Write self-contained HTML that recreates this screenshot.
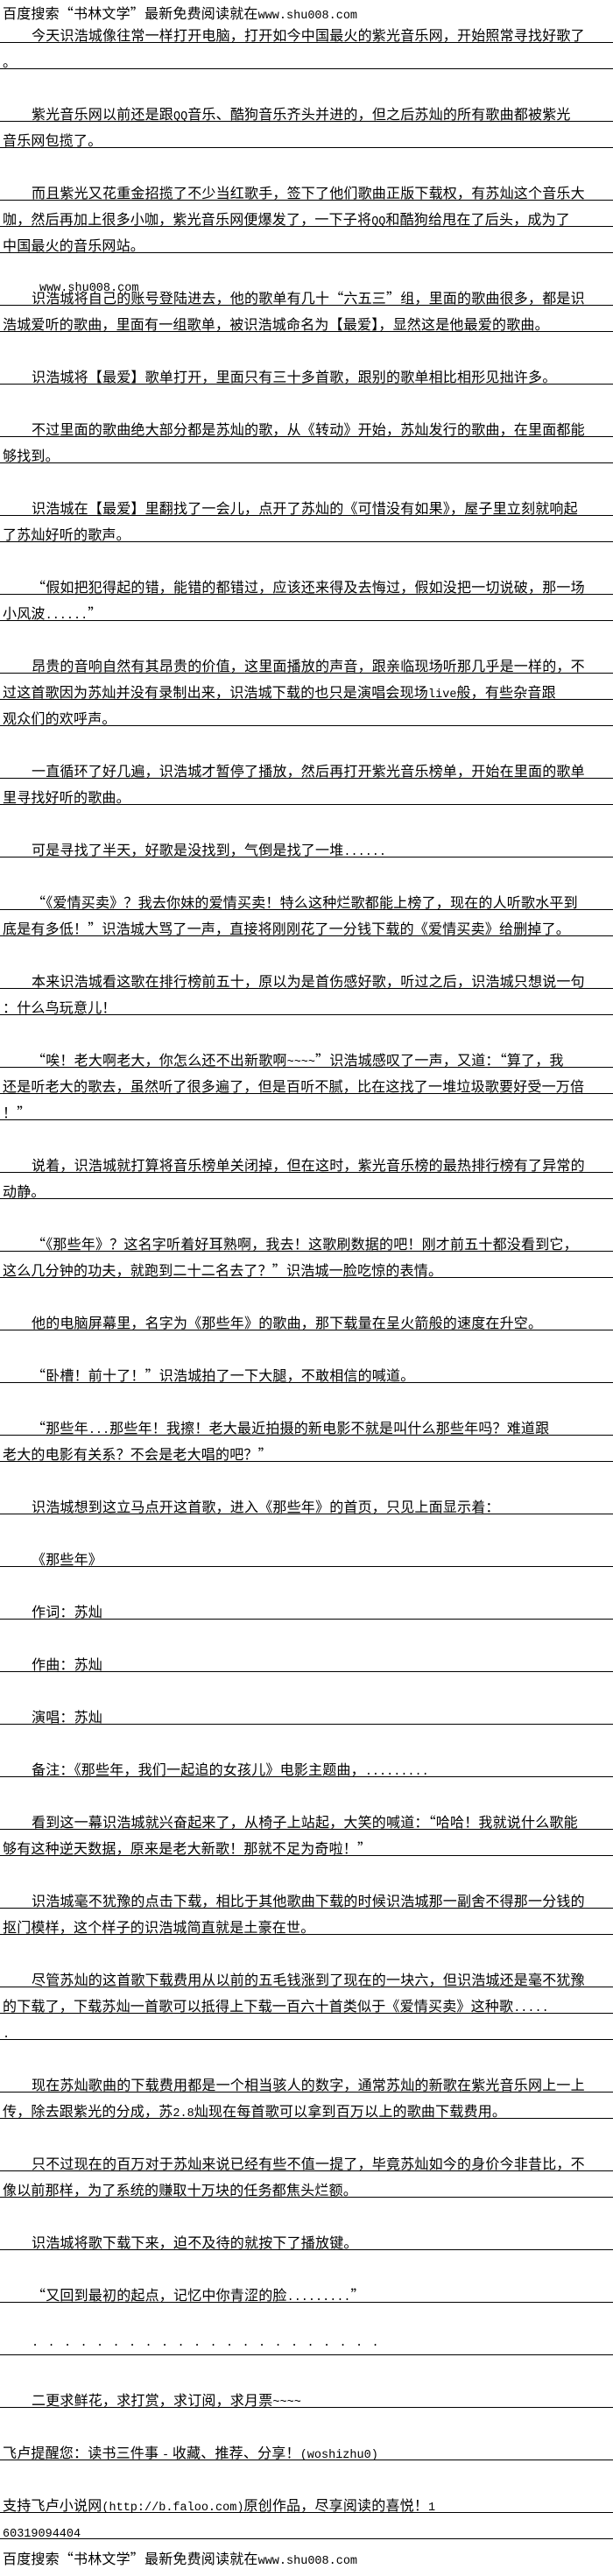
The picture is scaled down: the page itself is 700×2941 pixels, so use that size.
<!DOCTYPE html>
<html><head><meta charset="utf-8">
<style>
html,body{margin:0;padding:0;background:#fff;}
body{width:700px;height:2941px;position:relative;overflow:hidden;font-family:"Noto Sans CJK SC","WenQuanYi Zen Hei",sans-serif;color:#000;}
.r{position:absolute;left:0;width:697px;padding-left:3px;height:17px;padding-top:12px;line-height:16px;font-size:16px;letter-spacing:0.2px;border-bottom:1px solid #000;white-space:nowrap;overflow:hidden;}
.i{text-indent:33px;}
.t{position:absolute;left:3px;font-size:16px;line-height:16px;letter-spacing:0.2px;white-space:nowrap;}
.m{font-family:"Liberation Mono",monospace;font-size:13.5px;letter-spacing:0;}
</style></head><body>
<div class="t" style="top:6px">百度搜索“书林文学”最新免费阅读就在<span class="m">www.shu008.com</span></div>

<div class="r i" style="top:19px">今天识浩城像往常一样打开电脑，打开如今中国最火的紫光音乐网，开始照常寻找好歌了</div>
<div class="r" style="top:49px">。</div>
<div class="r i" style="top:109px">紫光音乐网以前还是跟<span class="m">QQ</span>音乐、酷狗音乐齐头并进的，但之后苏灿的所有歌曲都被紫光</div>
<div class="r" style="top:139px">音乐网包揽了。</div>
<div class="r i" style="top:199px">而且紫光又花重金招揽了不少当红歌手，签下了他们歌曲正版下载权，有苏灿这个音乐大</div>
<div class="r" style="top:229px">咖，然后再加上很多小咖，紫光音乐网便爆发了，一下子将<span class="m">QQ</span>和酷狗给甩在了后头，成为了</div>
<div class="r" style="top:259px">中国最火的音乐网站。</div>
<div class="t" style="top:317px;left:45px"><span class="m">www.shu008.com</span></div>
<div class="r i" style="top:319px;background:transparent">识浩城将自己的账号登陆进去，他的歌单有几十“六五三”组，里面的歌曲很多，都是识</div>
<div class="r" style="top:349px">浩城爱听的歌曲，里面有一组歌单，被识浩城命名为【最爱】，显然这是他最爱的歌曲。</div>
<div class="r i" style="top:409px">识浩城将【最爱】歌单打开，里面只有三十多首歌，跟别的歌单相比相形见拙许多。</div>
<div class="r i" style="top:469px">不过里面的歌曲绝大部分都是苏灿的歌，从《转动》开始，苏灿发行的歌曲，在里面都能</div>
<div class="r" style="top:499px">够找到。</div>
<div class="r i" style="top:559px">识浩城在【最爱】里翻找了一会儿，点开了苏灿的《可惜没有如果》，屋子里立刻就响起</div>
<div class="r" style="top:589px">了苏灿好听的歌声。</div>
<div class="r i" style="top:649px">“假如把犯得起的错，能错的都错过，应该还来得及去悔过，假如没把一切说破，那一场</div>
<div class="r" style="top:679px">小风波<span class="m">......</span>”</div>
<div class="r i" style="top:739px">昂贵的音响自然有其昂贵的价值，这里面播放的声音，跟亲临现场听那几乎是一样的，不</div>
<div class="r" style="top:769px">过这首歌因为苏灿并没有录制出来，识浩城下载的也只是演唱会现场<span class="m">live</span>般，有些杂音跟</div>
<div class="r" style="top:799px">观众们的欢呼声。</div>
<div class="r i" style="top:859px">一直循环了好几遍，识浩城才暂停了播放，然后再打开紫光音乐榜单，开始在里面的歌单</div>
<div class="r" style="top:889px">里寻找好听的歌曲。</div>
<div class="r i" style="top:949px">可是寻找了半天，好歌是没找到，气倒是找了一堆<span class="m">......</span></div>
<div class="r i" style="top:1009px">“《爱情买卖》？我去你妹的爱情买卖！特么这种烂歌都能上榜了，现在的人听歌水平到</div>
<div class="r" style="top:1039px">底是有多低！”识浩城大骂了一声，直接将刚刚花了一分钱下载的《爱情买卖》给删掉了。</div>
<div class="r i" style="top:1099px">本来识浩城看这歌在排行榜前五十，原以为是首伤感好歌，听过之后，识浩城只想说一句</div>
<div class="r" style="top:1129px">：什么鸟玩意儿！</div>
<div class="r i" style="top:1189px">“唉！老大啊老大，你怎么还不出新歌啊<span class="m">~~~~</span>”识浩城感叹了一声，又道：“算了，我</div>
<div class="r" style="top:1219px">还是听老大的歌去，虽然听了很多遍了，但是百听不腻，比在这找了一堆垃圾歌要好受一万倍</div>
<div class="r" style="top:1249px">！”</div>
<div class="r i" style="top:1309px">说着，识浩城就打算将音乐榜单关闭掉，但在这时，紫光音乐榜的最热排行榜有了异常的</div>
<div class="r" style="top:1339px">动静。</div>
<div class="r i" style="top:1399px">“《那些年》？这名字听着好耳熟啊，我去！这歌刷数据的吧！刚才前五十都没看到它，</div>
<div class="r" style="top:1429px">这么几分钟的功夫，就跑到二十二名去了？”识浩城一脸吃惊的表情。</div>
<div class="r i" style="top:1489px">他的电脑屏幕里，名字为《那些年》的歌曲，那下载量在呈火箭般的速度在升空。</div>
<div class="r i" style="top:1549px">“卧槽！前十了！”识浩城拍了一下大腿，不敢相信的喊道。</div>
<div class="r i" style="top:1609px">“那些年<span class="m">...</span>那些年！我擦！老大最近拍摄的新电影不就是叫什么那些年吗？难道跟</div>
<div class="r" style="top:1639px">老大的电影有关系？不会是老大唱的吧？”</div>
<div class="r i" style="top:1699px">识浩城想到这立马点开这首歌，进入《那些年》的首页，只见上面显示着：</div>
<div class="r i" style="top:1759px">《那些年》</div>
<div class="r i" style="top:1819px">作词：苏灿</div>
<div class="r i" style="top:1879px">作曲：苏灿</div>
<div class="r i" style="top:1939px">演唱：苏灿</div>
<div class="r i" style="top:1999px">备注：《那些年，我们一起追的女孩儿》电影主题曲，<span class="m">.........</span></div>
<div class="r i" style="top:2059px">看到这一幕识浩城就兴奋起来了，从椅子上站起，大笑的喊道：“哈哈！我就说什么歌能</div>
<div class="r" style="top:2089px">够有这种逆天数据，原来是老大新歌！那就不足为奇啦！”</div>
<div class="r i" style="top:2149px">识浩城毫不犹豫的点击下载，相比于其他歌曲下载的时候识浩城那一副舍不得那一分钱的</div>
<div class="r" style="top:2179px">抠门模样，这个样子的识浩城简直就是土豪在世。</div>
<div class="r i" style="top:2239px">尽管苏灿的这首歌下载费用从以前的五毛钱涨到了现在的一块六，但识浩城还是毫不犹豫</div>
<div class="r" style="top:2269px">的下载了，下载苏灿一首歌可以抵得上下载一百六十首类似于《爱情买卖》这种歌<span class="m">.....</span></div>
<div class="r" style="top:2299px"><span class="m">.</span></div>
<div class="r i" style="top:2359px">现在苏灿歌曲的下载费用都是一个相当骇人的数字，通常苏灿的新歌在紫光音乐网上一上</div>
<div class="r" style="top:2389px">传，除去跟紫光的分成，苏<span class="m">2.8</span>灿现在每首歌可以拿到百万以上的歌曲下载费用。</div>
<div class="r i" style="top:2449px">只不过现在的百万对于苏灿来说已经有些不值一提了，毕竟苏灿如今的身价今非昔比，不</div>
<div class="r" style="top:2479px">像以前那样，为了系统的赚取十万块的任务都焦头烂额。</div>
<div class="r i" style="top:2539px">识浩城将歌下载下来，迫不及待的就按下了播放键。</div>
<div class="r i" style="top:2599px">“又回到最初的起点，记忆中你青涩的脸<span class="m">.........</span>”</div>
<div class="r" style="top:2659px;padding-top:4px;height:25px;line-height:16px;padding-left:36px;width:664px"><span class="m" style="letter-spacing:10.4px">......................</span></div>
<div class="r i" style="top:2719px">二更求鲜花，求打赏，求订阅，求月票<span class="m">~~~~</span></div>
<div class="r" style="top:2779px">飞卢提醒您：读书三件事 <span class="m">-</span> 收藏、推荐、分享！<span class="m">(woshizhu0)</span></div>
<div class="r" style="top:2839px">支持飞卢小说网<span class="m">(http://b.faloo.com)</span>原创作品，尽享阅读的喜悦！<span class="m">1</span></div>
<div class="r" style="top:2869px"><span class="m">60319094404</span></div>
<div class="t" style="top:2912px">百度搜索“书林文学”最新免费阅读就在<span class="m">www.shu008.com</span></div>
</body></html>
